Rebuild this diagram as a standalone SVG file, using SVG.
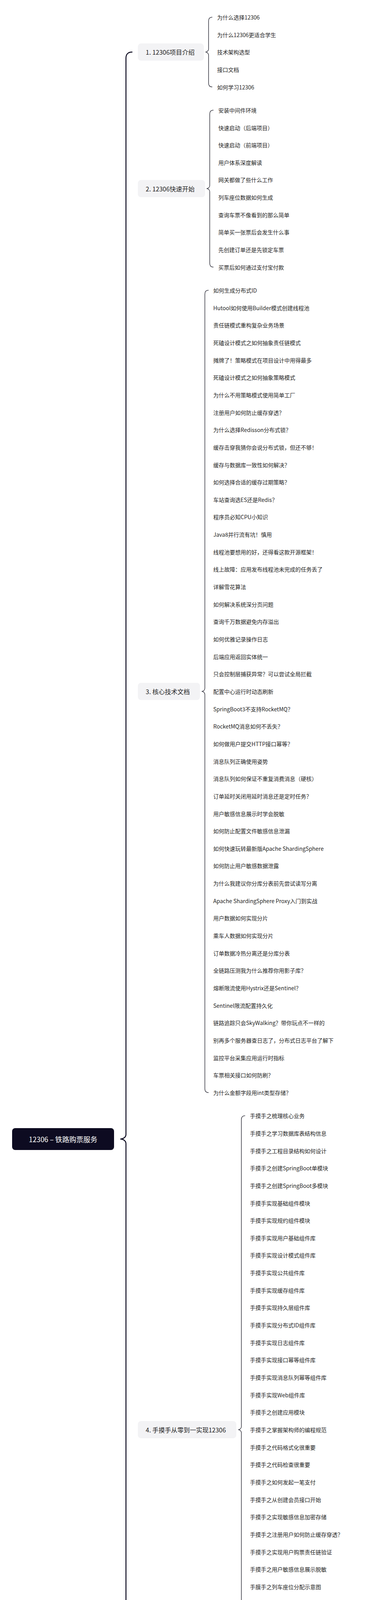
<svg xmlns="http://www.w3.org/2000/svg" width="955" height="6146" viewBox="0 0 955 6146">
<style>
text{font-family:'Noto Sans CJK SC','Noto Sans',sans-serif;dominant-baseline:central}
.leaf{font-size:14px;fill:#1f1f24}
.btxt{font-size:16px;fill:#1f1f24}
.box{fill:#f3f3f5}
.root{fill:#0d0b21}
.rtxt{font-size:18px;fill:#ffffff}
.brace{fill:none;stroke:#34343f;stroke-width:1.5;stroke-linecap:round}
.rbrace{fill:none;stroke:#0d0b21;stroke-width:2.5;stroke-linecap:round}
</style>
<rect width="955" height="6146" fill="#ffffff"/>
<g id="connectors">
<path class="rbrace" d="M338,133.3 C328,133.3 322.5,139 322.5,149 L322.5,2903.9 C322.5,2911 316,2915.9 308,2915.9 C316,2915.9 322.5,2920.8 322.5,2927.9 L322.5,5682.5 C322.5,5692.5 328,5698.5 338,5698.5"/>
<path class="brace" d="M543,44 C537,44 534,47 534,54 L534,125.3 C534,130 530,133.3 526,133.3 C530,133.3 534,136.6 534,141.3 L534,212.6 C534,219.6 537,222.6 543,222.6"/>
<path class="brace" d="M546,281.9 C540,281.9 537,284.9 537,291.9 L537,474.8 C537,479.5 533,482.8 529,482.8 C533,482.8 537,486.1 537,490.8 L537,673.75 C537,680.75 540,683.75 546,683.75"/>
<path class="brace" d="M533.5,743.05 C527.5,743.05 524.5,746.05 524.5,753.05 L524.5,1762 C524.5,1766.7 520.5,1770 516.5,1770 C520.5,1770 524.5,1773.3 524.5,1778 L524.5,2786.95 C524.5,2793.95 527.5,2796.95 533.5,2796.95"/>
<path class="brace" d="M627,2856.25 C621,2856.25 618,2859.25 618,2866.25 L618,3651.95 C618,3656.65 614,3659.95 610,3659.95 C614,3659.95 618,3663.25 618,3667.95 L618,4453.65 C618,4460.65 621,4463.65 627,4463.65"/>
<path class="brace" d="M502,4522.95 C496,4522.95 493,4525.95 493,4532.95 L493,4872.15 C493,4876.85 489,4880.15 485,4880.15 C489,4880.15 493,4883.45 493,4888.15 L493,5227.35 C493,5234.35 496,5237.35 502,5237.35"/>
<path class="brace" d="M533.5,5296.65 C527.5,5296.65 524.5,5299.65 524.5,5306.65 L524.5,5690.5 C524.5,5695.2 520.5,5698.5 516.5,5698.5 C520.5,5698.5 524.5,5701.8 524.5,5706.5 L524.5,6090.35 C524.5,6097.35 527.5,6100.35 533.5,6100.35"/>
</g>
<g id="root"><rect class="root" x="31" y="2888" width="261" height="56" rx="8"/><text class="rtxt" x="161.5" y="2916" text-anchor="middle">12306 – 铁路购票服务</text></g>
<g id="b1"><rect class="box" x="353" y="111.3" width="169" height="44" rx="8"/><text class="btxt" x="373" y="133.3">1. 12306项目介绍</text></g>
<g id="b2"><rect class="box" x="353" y="460.8" width="172" height="44" rx="8"/><text class="btxt" x="373" y="482.8">2. 12306快速开始</text></g>
<g id="b3"><rect class="box" x="353" y="1748" width="159" height="44" rx="8"/><text class="btxt" x="373" y="1770">3. 核心技术文档</text></g>
<g id="b4"><rect class="box" x="353" y="3637.95" width="252" height="44" rx="8"/><text class="btxt" x="373" y="3659.95">4. 手摸手从零到一实现12306</text></g>
<g id="b5"><rect class="box" x="353" y="4858.15" width="127" height="44" rx="8"/><text class="btxt" x="373" y="4880.15">5. 面试系列</text></g>
<g id="b6"><rect class="box" x="353" y="5676.5" width="160" height="44" rx="8"/><text class="btxt" x="373" y="5698.5">6. 常见问题FAQ</text></g>
<g id="leaves1" transform="translate(556,44)">
<g id="l1-1"><text class="leaf" y="0">为什么选择12306</text></g>
<g id="l1-2"><text class="leaf" y="44.65">为什么12306更适合学生</text></g>
<g id="l1-3"><text class="leaf" y="89.3">技术架构选型</text></g>
<g id="l1-4"><text class="leaf" y="133.95">接口文档</text></g>
<g id="l1-5"><text class="leaf" y="178.6">如何学习12306</text></g>
</g>
<g id="leaves2" transform="translate(559,281.9)">
<g id="l2-1"><text class="leaf" y="0">安装中间件环境</text></g>
<g id="l2-2"><text class="leaf" y="44.65">快速启动（后端项目）</text></g>
<g id="l2-3"><text class="leaf" y="89.3">快速启动（前端项目）</text></g>
<g id="l2-4"><text class="leaf" y="133.95">用户体系深度解读</text></g>
<g id="l2-5"><text class="leaf" y="178.6">网关都做了些什么工作</text></g>
<g id="l2-6"><text class="leaf" y="223.25">列车座位数据如何生成</text></g>
<g id="l2-7"><text class="leaf" y="267.9">查询车票不像看到的那么简单</text></g>
<g id="l2-8"><text class="leaf" y="312.55">简单买一张票后会发生什么事</text></g>
<g id="l2-9"><text class="leaf" y="357.2">先创建订单还是先锁定车票</text></g>
<g id="l2-10"><text class="leaf" y="401.85">买票后如何通过支付宝付款</text></g>
</g>
<g id="leaves3" transform="translate(546,743.05)">
<g id="l3-1"><text class="leaf" y="0">如何生成分布式ID</text></g>
<g id="l3-2"><text class="leaf" y="44.65">Hutool如何使用Builder模式创建线程池</text></g>
<g id="l3-3"><text class="leaf" y="89.3">责任链模式重构复杂业务场景</text></g>
<g id="l3-4"><text class="leaf" y="133.95">死磕设计模式之如何抽象责任链模式</text></g>
<g id="l3-5"><text class="leaf" y="178.6">摊牌了！策略模式在项目设计中用得最多</text></g>
<g id="l3-6"><text class="leaf" y="223.25">死磕设计模式之如何抽象策略模式</text></g>
<g id="l3-7"><text class="leaf" y="267.9">为什么不用策略模式使用简单工厂</text></g>
<g id="l3-8"><text class="leaf" y="312.55">注册用户如何防止缓存穿透？</text></g>
<g id="l3-9"><text class="leaf" y="357.2">为什么选择Redisson分布式锁？</text></g>
<g id="l3-10"><text class="leaf" y="401.85">缓存击穿我猜你会说分布式锁，但还不够！</text></g>
<g id="l3-11"><text class="leaf" y="446.5">缓存与数据库一致性如何解决？</text></g>
<g id="l3-12"><text class="leaf" y="491.15">如何选择合适的缓存过期策略？</text></g>
<g id="l3-13"><text class="leaf" y="535.8">车站查询选ES还是Redis？</text></g>
<g id="l3-14"><text class="leaf" y="580.45">程序员必知CPU小知识</text></g>
<g id="l3-15"><text class="leaf" y="625.1">Java8并行流有坑！慎用</text></g>
<g id="l3-16"><text class="leaf" y="669.75">线程池要想用的好，还得看这款开源框架！</text></g>
<g id="l3-17"><text class="leaf" y="714.4">线上故障：应用发布线程池未完成的任务丢了</text></g>
<g id="l3-18"><text class="leaf" y="759.05">详解雪花算法</text></g>
<g id="l3-19"><text class="leaf" y="803.7">如何解决系统深分页问题</text></g>
<g id="l3-20"><text class="leaf" y="848.35">查询千万数据避免内存溢出</text></g>
<g id="l3-21"><text class="leaf" y="893">如何优雅记录操作日志</text></g>
<g id="l3-22"><text class="leaf" y="937.65">后端应用返回实体统一</text></g>
<g id="l3-23"><text class="leaf" y="982.3">只会控制层捕获异常？可以尝试全局拦截</text></g>
<g id="l3-24"><text class="leaf" y="1026.95">配置中心运行时动态刷新</text></g>
<g id="l3-25"><text class="leaf" y="1071.6">SpringBoot3不支持RocketMQ？</text></g>
<g id="l3-26"><text class="leaf" y="1116.25">RocketMQ消息如何不丢失？</text></g>
<g id="l3-27"><text class="leaf" y="1160.9">如何做用户提交HTTP接口幂等？</text></g>
<g id="l3-28"><text class="leaf" y="1205.55">消息队列正确使用姿势</text></g>
<g id="l3-29"><text class="leaf" y="1250.2">消息队列如何保证不重复消费消息（硬核）</text></g>
<g id="l3-30"><text class="leaf" y="1294.85">订单延时关闭用延时消息还是定时任务？</text></g>
<g id="l3-31"><text class="leaf" y="1339.5">用户敏感信息展示时学会脱敏</text></g>
<g id="l3-32"><text class="leaf" y="1384.15">如何防止配置文件敏感信息泄漏</text></g>
<g id="l3-33"><text class="leaf" y="1428.8">如何快速玩转最新版Apache ShardingSphere</text></g>
<g id="l3-34"><text class="leaf" y="1473.45">如何防止用户敏感数据泄露</text></g>
<g id="l3-35"><text class="leaf" y="1518.1">为什么我建议你分库分表前先尝试读写分离</text></g>
<g id="l3-36"><text class="leaf" y="1562.75">Apache ShardingSphere Proxy入门到实战</text></g>
<g id="l3-37"><text class="leaf" y="1607.4">用户数据如何实现分片</text></g>
<g id="l3-38"><text class="leaf" y="1652.05">乘车人数据如何实现分片</text></g>
<g id="l3-39"><text class="leaf" y="1696.7">订单数据冷热分离还是分库分表</text></g>
<g id="l3-40"><text class="leaf" y="1741.35">全链路压测我为什么推荐你用影子库？</text></g>
<g id="l3-41"><text class="leaf" y="1786">熔断限流使用Hystrix还是Sentinel？</text></g>
<g id="l3-42"><text class="leaf" y="1830.65">Sentinel限流配置持久化</text></g>
<g id="l3-43"><text class="leaf" y="1875.3">链路追踪只会SkyWalking？带你玩点不一样的</text></g>
<g id="l3-44"><text class="leaf" y="1919.95">别再多个服务器查日志了，分布式日志平台了解下</text></g>
<g id="l3-45"><text class="leaf" y="1964.6">监控平台采集应用运行时指标</text></g>
<g id="l3-46"><text class="leaf" y="2009.25">车票相关接口如何防刷？</text></g>
<g id="l3-47"><text class="leaf" y="2053.9">为什么金额字段用int类型存储？</text></g>
</g>
<g id="leaves4" transform="translate(640,2856.25)">
<g id="l4-1"><text class="leaf" y="0">手摸手之梳理核心业务</text></g>
<g id="l4-2"><text class="leaf" y="44.65">手摸手之学习数据库表结构信息</text></g>
<g id="l4-3"><text class="leaf" y="89.3">手摸手之工程目录结构如何设计</text></g>
<g id="l4-4"><text class="leaf" y="133.95">手摸手之创建SpringBoot单模块</text></g>
<g id="l4-5"><text class="leaf" y="178.6">手摸手之创建SpringBoot多模块</text></g>
<g id="l4-6"><text class="leaf" y="223.25">手摸手实现基础组件模块</text></g>
<g id="l4-7"><text class="leaf" y="267.9">手摸手实现规约组件模块</text></g>
<g id="l4-8"><text class="leaf" y="312.55">手摸手实现用户基础组件库</text></g>
<g id="l4-9"><text class="leaf" y="357.2">手摸手实现设计模式组件库</text></g>
<g id="l4-10"><text class="leaf" y="401.85">手摸手实现公共组件库</text></g>
<g id="l4-11"><text class="leaf" y="446.5">手摸手实现缓存组件库</text></g>
<g id="l4-12"><text class="leaf" y="491.15">手摸手实现持久层组件库</text></g>
<g id="l4-13"><text class="leaf" y="535.8">手摸手实现分布式ID组件库</text></g>
<g id="l4-14"><text class="leaf" y="580.45">手摸手实现日志组件库</text></g>
<g id="l4-15"><text class="leaf" y="625.1">手摸手实现接口幂等组件库</text></g>
<g id="l4-16"><text class="leaf" y="669.75">手摸手实现消息队列幂等组件库</text></g>
<g id="l4-17"><text class="leaf" y="714.4">手摸手实现Web组件库</text></g>
<g id="l4-18"><text class="leaf" y="759.05">手摸手之创建应用模块</text></g>
<g id="l4-19"><text class="leaf" y="803.7">手摸手之掌握架构师的编程规范</text></g>
<g id="l4-20"><text class="leaf" y="848.35">手摸手之代码格式化很重要</text></g>
<g id="l4-21"><text class="leaf" y="893">手摸手之代码检查很重要</text></g>
<g id="l4-22"><text class="leaf" y="937.65">手摸手之如何发起一笔支付</text></g>
<g id="l4-23"><text class="leaf" y="982.3">手摸手之从创建会员接口开始</text></g>
<g id="l4-24"><text class="leaf" y="1026.95">手摸手之实现敏感信息加密存储</text></g>
<g id="l4-25"><text class="leaf" y="1071.6">手摸手之注册用户如何防止缓存穿透？</text></g>
<g id="l4-26"><text class="leaf" y="1116.25">手摸手之实现用户购票责任链验证</text></g>
<g id="l4-27"><text class="leaf" y="1160.9">手摸手之用户敏感信息展示脱敏</text></g>
<g id="l4-28"><text class="leaf" y="1205.55">手膜手之列车座位分配示意图</text></g>
<g id="l4-29"><text class="leaf" y="1250.2">手摸手之实现列车购票流程</text></g>
<g id="l4-30"><text class="leaf" y="1294.85">手摸手之实现v2版本列车购票流程</text></g>
<g id="l4-31"><text class="leaf" y="1339.5">手摸手之列车余票如何保障缓存数据库一致性</text></g>
<g id="l4-32"><text class="leaf" y="1384.15">手摸手之用户如何实现分库分表</text></g>
<g id="l4-33"><text class="leaf" y="1428.8">手摸手之乘车人如何实现分库分表</text></g>
<g id="l4-34"><text class="leaf" y="1473.45">手摸手之订单如何分库分表</text></g>
<g id="l4-35"><text class="leaf" y="1518.1">手摸手之乘车人本人车票订单查看</text></g>
<g id="l4-36"><text class="leaf" y="1562.75">手摸手之全局缓存使用概述</text></g>
<g id="l4-37"><text class="leaf" y="1607.4">手摸手之全局消息队列使用概述</text></g>
</g>
<g id="leaves5" transform="translate(514,4522.95)">
<g id="l5-1"><text class="leaf" y="0">如何把12306写到简历上？</text></g>
<g id="l5-2"><text class="leaf" y="44.65">2023校招内推公司名单(持续更新)</text></g>
<g id="l5-3"><text class="leaf" y="89.3">面试官问12306项目怎么来的？</text></g>
<g id="l5-4"><text class="leaf" y="133.95">快手校招一面（12306 面试真题）</text></g>
<g id="l5-5"><text class="leaf" y="178.6">理想汽车校招一面（12306 面试真题）</text></g>
<g id="l5-6"><text class="leaf" y="223.25">小红书提前批一二面(12306面试真题)</text></g>
<g id="l5-7"><text class="leaf" y="267.9">宁德时代校招一面(12306面试真题)</text></g>
<g id="l5-8"><text class="leaf" y="312.55">百度秋招提前提一二面</text></g>
<g id="l5-9"><text class="leaf" y="357.2">微医集团校招一面(12306面试真题)</text></g>
<g id="l5-10"><text class="leaf" y="401.85">阿里淘天ToB一面(12306面试真题)</text></g>
<g id="l5-11"><text class="leaf" y="446.5">快手北京风控秋招一二面</text></g>
<g id="l5-12"><text class="leaf" y="491.15">用友网络秋招一面</text></g>
<g id="l5-13"><text class="leaf" y="535.8">用友网络秋招一二面(12306面试真题)</text></g>
<g id="l5-14"><text class="leaf" y="580.45">美团秋招一二面(12306面试真题)</text></g>
<g id="l5-15"><text class="leaf" y="625.1">腾讯电竞一二面</text></g>
<g id="l5-16"><text class="leaf" y="669.75">美团到家秋招一面(12306面试真题)</text></g>
<g id="l5-17"><text class="leaf" y="714.4">蔚来智能APP秋招一面</text></g>
</g>
<g id="leaves6" transform="translate(547,5296.65)">
<g id="l6-1"><text class="leaf" y="0">幂等组件HTTP应用场景是什么</text></g>
<g id="l6-2"><text class="leaf" y="44.65">线程池参数怎么配置比较合理？</text></g>
<g id="l6-3"><text class="leaf" y="89.3">为什么采用构造器注入？</text></g>
<g id="l6-4"><text class="leaf" y="133.95">高并发项目上线前如何进行压测？</text></g>
<g id="l6-5"><text class="leaf" y="178.6">列车站点暂无余票？</text></g>
<g id="l6-6"><text class="leaf" y="223.25">为什么分布式模式调用报错？</text></g>
<g id="l6-7"><text class="leaf" y="267.9">Windows 系统启动聚合服务报错</text></g>
<g id="l6-8"><text class="leaf" y="312.55">列车数据查询为什么用Redis而不是ES？</text></g>
<g id="l6-9"><text class="leaf" y="357.2">列车数据查询有没有数据检索功能？</text></g>
<g id="l6-10"><text class="leaf" y="401.85">创建订单并顺利支付后延时关闭订单如何解决？</text></g>
<g id="l6-11"><text class="leaf" y="446.5">购买列车余票如何防止库存超卖？</text></g>
<g id="l6-12"><text class="leaf" y="491.15">分布式锁之双重判定锁如何优化性能？</text></g>
<g id="l6-13"><text class="leaf" y="535.8">节假日高并发购票Redis能扛得住么？</text></g>
<g id="l6-14"><text class="leaf" y="580.45">用户注册布隆过滤器容量设置以及碰撞率问题</text></g>
<g id="l6-15"><text class="leaf" y="625.1">项目什么场景使用线程池？参数如何设置？</text></g>
<g id="l6-16"><text class="leaf" y="669.75">购买列车中间站点余票如何更新？</text></g>
<g id="l6-17"><text class="leaf" y="714.4">余票Binlog更新延迟问题如何解决？</text></g>
<g id="l6-18"><text class="leaf" y="759.05">监听Binlog的RocketMQ如何保证顺序性？</text></g>
<g id="l6-19"><text class="leaf" y="803.7">12306核心接口性能优化都做了什么？</text></g>
</g>
</svg>
